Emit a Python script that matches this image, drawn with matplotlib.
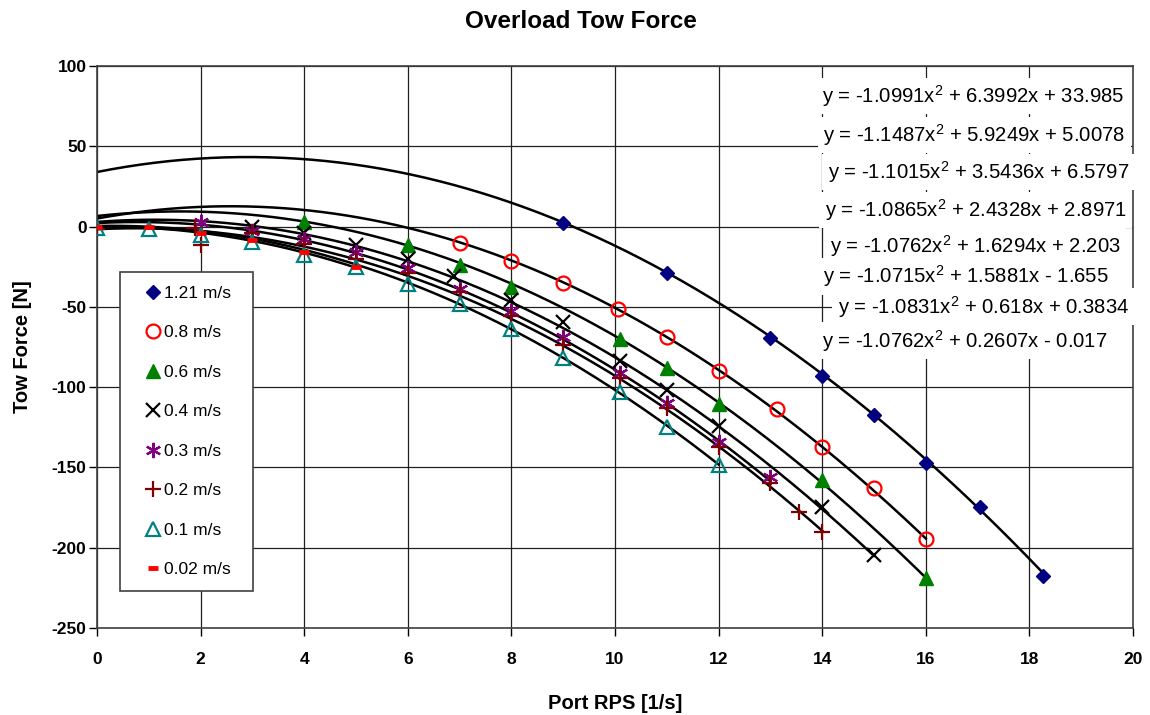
import numpy as np
import matplotlib
matplotlib.use("Agg")
import matplotlib.pyplot as plt

plt.rcParams['font.family'] = ['Liberation Sans', 'DejaVu Sans']
plt.rcParams['mathtext.fontset'] = 'custom'
plt.rcParams['mathtext.rm'] = 'Liberation Sans'
plt.rcParams['mathtext.it'] = 'Liberation Sans:italic'
plt.rcParams['mathtext.bf'] = 'Liberation Sans:bold'
plt.rcParams['axes.unicode_minus'] = False

# ── Data ───────────────────────────────────────────────────────────────────────

labels = ["1.21 m/s", "0.8 m/s", "0.6 m/s", "0.4 m/s",
          "0.3 m/s", "0.2 m/s", "0.1 m/s", "0.02 m/s"]

x121 = [9, 11, 13, 14, 15, 16, 17.05, 18.27]
y121 = [2.2, -29, -69.3, -93, -117.4, -147, -174.5, -217.4]

x08 = [7, 8, 9, 10.05, 11, 12, 13.13, 14, 15, 16]
y08 = [-10.2, -21.4, -35, -51.3, -68.7, -90.2, -113.8, -137.5, -163, -194.5]

x06 = [4, 6, 7, 8, 10.1, 11, 12, 14, 16]
y06 = [3, -11.6, -24, -37.5, -70, -88, -110.5, -158, -219]

x04 = [3, 4, 5, 6, 6.9, 8, 9, 10.1, 11, 12, 14, 15]
y04 = [0, -4, -11.5, -20, -31, -46, -59.5, -84, -101.5, -124.5, -174.5, -204.5]

x03 = [2, 3, 4, 5, 6, 7, 8, 9, 10.1, 11, 12, 13]
y03 = [3, -3, -7.5, -15.8, -25.5, -39, -52.5, -69, -91.5, -110, -134, -156]

x02 = [0, 1.9, 2, 3, 4, 5, 6, 7, 8, 9, 10.1, 11, 12, 13, 13.55, 14]
y02 = [-1.5, -1, -11.5, -4, -11, -20, -29, -41, -56, -74, -94, -113, -137,
       -160, -177.5, -190]

x01 = [0, 1, 2, 3, 4, 5, 6, 7, 8, 9, 10.1, 11, 12]
y01 = [-1, -1.5, -5, -9.5, -17.5, -25, -36, -48.5, -64, -82, -103, -124.6, -148.6]

x002 = [0, 1, 2, 3, 4, 5]
y002 = [0, -0.5, -4, -8.5, -15.6, -25]

# trendline coefficients as printed on the chart (a x^2 + b x + c)
coef_a = [-1.0991, -1.1487, -1.1015, -1.0865, -1.0762, -1.0715, -1.0831, -1.0762]
coef_b = [6.3992, 5.9249, 3.5436, 2.4328, 1.6294, 1.5881, 0.618, 0.2607]
coef_c = [33.985, 5.0078, 6.5797, 2.8971, 2.203, -1.655, 0.3834, -0.017]

xs = [x121, x08, x06, x04, x03, x02, x01, x002]
ys = [y121, y08, y06, y04, y03, y02, y01, y002]

# ── Styles ─────────────────────────────────────────────────────────────────────

styles = [
    dict(marker="D", color="#000080", ms=7.5, mew=1),
    dict(marker="o", color="#FF0000", ms=10, mew=1.6, mfc="none"),
    dict(marker="^", color="#008000", ms=10, mew=1),
    dict(marker="x", color="black", ms=10, mew=1.6),
    dict(marker=(6, 2, 0), color="#800080", ms=11, mew=1.6),
    dict(marker="+", color="#800000", ms=11, mew=1.6),
    dict(marker="^", color="#008080", ms=10, mew=1.6, mfc="none"),
    dict(marker="_", color="#FF0000", ms=7, mew=3.5),
]

# where the equation labels sit (data coords, left edge / vertical centre)
eq_pos = [(14.0, 81.3), (14.02, 57.0), (14.11, 34.0), (14.05, 10.3),
          (14.15, -12.0), (14.02, -31.0), (14.3, -50.0), (14.0, -71.2)]

# ── Plot ───────────────────────────────────────────────────────────────────────

fig = plt.figure(figsize=(11.5, 7.15), dpi=100)
ax = fig.add_axes([97 / 1150, 1 - 628 / 715, 1036 / 1150, 562 / 715])

for x, y, st, lab, a, b, c in zip(xs, ys, styles, labels, coef_a, coef_b, coef_c):
    ax.plot(x, y, linestyle="none", label=lab, zorder=3, **st)
    xf = np.linspace(0, max(x), 200)
    ax.plot(xf, a * xf**2 + b * xf + c, color="black", lw=1.8, zorder=2)

for (ex, ey), a, b, c in zip(eq_pos, coef_a, coef_b, coef_c):
    sign = "+" if c >= 0 else "-"
    txt = f"y = {a:g}x$^{{2}}$ + {b:g}x {sign} {abs(c):g}"
    ax.text(ex, ey, txt, fontsize=14.6, ha="left", va="center", zorder=4,
            bbox=dict(facecolor="white", edgecolor="none", pad=4))

ax.set_xlim(0, 20)
ax.set_ylim(-250, 100)
ax.set_xticks(np.arange(0, 21, 2))
ax.set_yticks(np.arange(-250, 101, 50))
ax.grid(True, color="#202020", lw=0.9)
ax.set_axisbelow(True)
ax.tick_params(direction="out", length=6, width=1, labelsize=12.5, pad=1.5)
ax.tick_params(axis="x", pad=11)
for t in ax.get_xticklabels() + ax.get_yticklabels():
    t.set_fontweight("bold")
for s in ax.spines.values():
    s.set_color("#404040")
    s.set_linewidth(1.2)

ax.set_xlabel("Port RPS [1/s]", fontsize=14.5, fontweight="bold", labelpad=20)
ax.set_ylabel("Tow Force [N]", fontsize=14.5, fontweight="bold", labelpad=14)
fig.text(581 / 1150, 1 - 22 / 715, "Overload Tow Force",
         fontsize=17.5, fontweight="bold", ha="center", va="center")

leg = ax.legend(loc="upper left", bbox_to_anchor=(0.0222, 0.0676, 0.1284, 0.5655),
                mode="expand", fontsize=12.5, numpoints=1, frameon=True,
                fancybox=False, edgecolor="#404040", framealpha=1,
                labelspacing=1.40, borderpad=0.78, handlelength=2.2,
                handletextpad=-0.45, borderaxespad=0)
leg.get_frame().set_linewidth(1.2)

plt.savefig("out.png", dpi=100)
